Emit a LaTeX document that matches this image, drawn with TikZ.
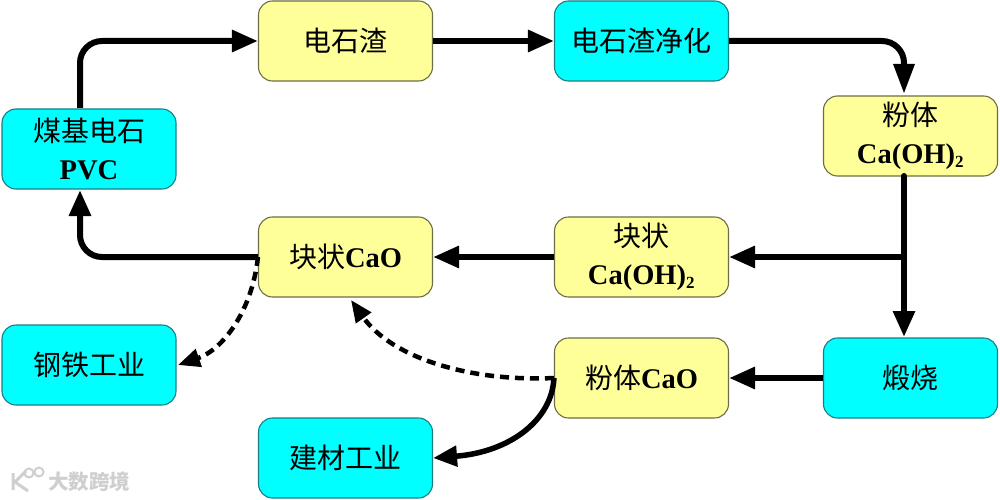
\documentclass[tikz,border=0pt]{standalone}
\usepackage{fontspec}
\setmainfont{Liberation Serif}
\newfontfamily\cjk{Noto Sans CJK SC}
\usetikzlibrary{arrows.meta,positioning}
\tikzset{
  basebox/.style={draw, rounded corners=14pt, line width=1.1pt, minimum width=174pt, minimum height=80pt, inner sep=0pt, align=center, text=black, font=\fontsize{28}{38}\selectfont\cjk},
  yellowbox/.style={basebox, fill=boxyellow, draw=yellowedge},
  cyanbox/.style={basebox, fill=boxcyan, draw=cyanedge},
  flow/.style={line width=6pt, black, rounded corners=22pt, -{Triangle[length=26pt,width=21pt]}},
  plain/.style={line width=6pt, black, line cap=round},
  dashflow/.style={line width=4.5pt, black, dash pattern=on 9pt off 6pt, -{Triangle[length=22pt,width=18pt]}}
}
\definecolor{boxyellow}{HTML}{FFFF99}
\definecolor{yellowedge}{HTML}{6E6E45}
\definecolor{boxcyan}{HTML}{00FFFF}
\definecolor{cyanedge}{HTML}{1A7D85}
\definecolor{wm}{HTML}{CFCFCF}
\newcommand{\lat}[1]{{\fontsize{28.5}{38}\selectfont\bfseries\rmfamily #1}}
\newcommand{\subtwo}{\textsubscript{\fontsize{17}{17}\selectfont 2}}
\begin{document}
\begin{tikzpicture}[x=1pt,y=-1pt]
\useasboundingbox (0,0) rectangle (1000,500);
\fill[white] (0,0) rectangle (1000,500);
\node[cyanbox]   (pvc)  at (89,149)   {煤基电石\\\lat{PVC}};
\node[yellowbox] (slag) at (345.5,41) {电石渣};
\node[cyanbox]   (pure) at (641.5,41) {电石渣净化};
\node[yellowbox] (pow)  at (910.5,136) {粉体\\\lat{Ca(OH)\subtwo}};
\node[yellowbox] (lump) at (345.5,257) {块状\lat{CaO}};
\node[yellowbox] (lumpoh) at (641.5,257) {块状\\\lat{Ca(OH)\subtwo}};
\node[cyanbox]   (steel) at (89,365)  {钢铁工业};
\node[yellowbox] (powcao) at (641.5,378) {粉体\lat{CaO}};
\node[cyanbox]   (calc) at (910.5,378) {煅烧};
\node[cyanbox]   (build) at (345.5,458) {建材工业};
\coordinate (pvcT) at (80,108);
\coordinate (pvcB) at (80,190);
\coordinate (powB) at (904,176);
\coordinate (powT) at (904,94);
\coordinate (calcT) at (904,337);
\coordinate (junc) at (904,257);
\coordinate (caodash) at (351,300);
\coordinate (steeltip) at (178,365);
\draw[flow] (pvcT) |- (slag.west);
\draw[flow] (slag.east) -- (pure.west);
\draw[flow, -{Triangle[length=30pt,width=20pt]}] (pure.east) -| (powT);
\draw[plain] (powB) -- (junc);
\draw[flow] (junc) -- (calcT);
\draw[flow] (junc) -- (lumpoh.east);
\draw[flow] (lumpoh.west) -- (lump.east);
\draw[flow] (lump.west) -| (pvcB);
\draw[flow] (calc.west) -- (powcao.east);
\draw[dashflow] (lump.west) .. controls (252,312) and (222,350) .. (steeltip);
\draw[dashflow] (powcao.west) .. controls (470,382) and (392,358) .. (caodash);
\draw[line width=5.5pt, black, -{Triangle[length=24pt,width=20pt]}] (powcao.west) .. controls (552,420) and (510,452) .. (build.east);
% watermark
\node[inner sep=0pt, text=wm, font=\fontsize{20.5}{20.5}\selectfont\bfseries\cjk, anchor=west] (wmark) at (48,482) {大数跨境};
\draw[wm, line width=3pt] (13,473) -- (13,490) (26,471) -- (15,482) -- (28,491);
\draw[wm, line width=2pt] (29,473) circle (4.5pt) (39,472) circle (4.5pt);
\end{tikzpicture}
\end{document}
